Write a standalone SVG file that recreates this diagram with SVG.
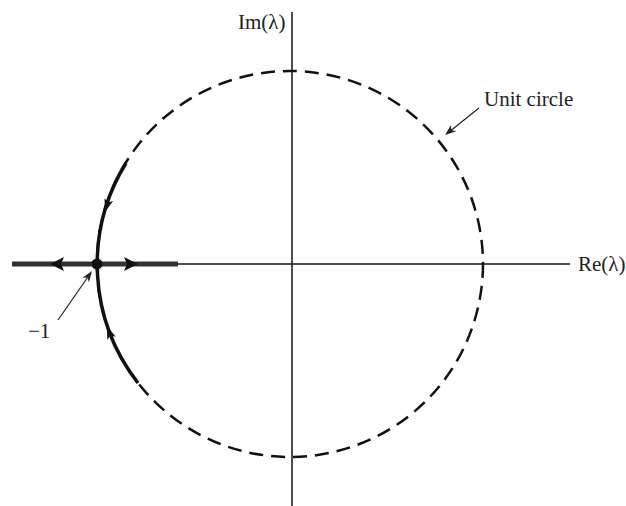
<svg xmlns="http://www.w3.org/2000/svg" xmlns:xlink="http://www.w3.org/1999/xlink" width="626" height="506" viewBox="0 0 626 506">
<style>
.lbl{font-family:"Liberation Serif","Times New Roman",serif;font-size:21px;fill:#222}
.axis{stroke:#111;stroke-width:1.5;fill:none}
.unit{stroke:#111;stroke-width:2.5;fill:none;stroke-dasharray:14 8}
.locus{stroke:#111;stroke-width:3.5;fill:none}
.thin{stroke:#222;stroke-width:1.2;fill:none}
</style>
<defs>
<path id="ah" d="M0,0 L-13,-4.5 L-10,0 L-13,4.5 Z" fill="#111"/>
<path id="bh" d="M0,0 L-14,-7 L-11,0 L-14,7 Z" fill="#111"/>
<path id="sh" d="M0,0 L-11,-4 L-8,0 L-11,4 Z" fill="#222"/>
</defs>
<rect width="626" height="506" fill="#fff"/>
<g id="axes">
<line class="axis" x1="292" y1="12" x2="292" y2="506"/>
<line class="axis" x1="12" y1="264" x2="570" y2="264"/>
</g>
<g id="unit-circle">
<circle class="unit" cx="290" cy="264" r="193"/>
</g>
<g id="connectors">
<line x1="12" y1="264" x2="178" y2="264" stroke="#333" stroke-width="5"/>
<path class="locus" d="M126,163 A193,193 0 0 0 138,383"/>
<use xlink:href="#bh" transform="translate(50,264) rotate(180)"/>
<use xlink:href="#bh" transform="translate(138,264)"/>
<use xlink:href="#ah" transform="translate(105,212) rotate(107)"/>
<use xlink:href="#ah" transform="translate(107,326) rotate(250)"/>
<circle cx="97" cy="264" r="5.5" fill="#111"/>
<line class="thin" x1="58" y1="320" x2="90" y2="274"/>
<use xlink:href="#sh" transform="translate(92,271) rotate(-55)"/>
<line class="thin" x1="479" y1="108" x2="449" y2="132"/>
<use xlink:href="#sh" transform="translate(445,135) rotate(141)"/>
</g>
<g id="labels">
<text class="lbl" x="238" y="29">Im(λ)</text>
<text class="lbl" x="578" y="271">Re(λ)</text>
<text class="lbl" x="484" y="106">Unit circle</text>
<text class="lbl" x="28" y="338">−1</text>
</g>
</svg>
